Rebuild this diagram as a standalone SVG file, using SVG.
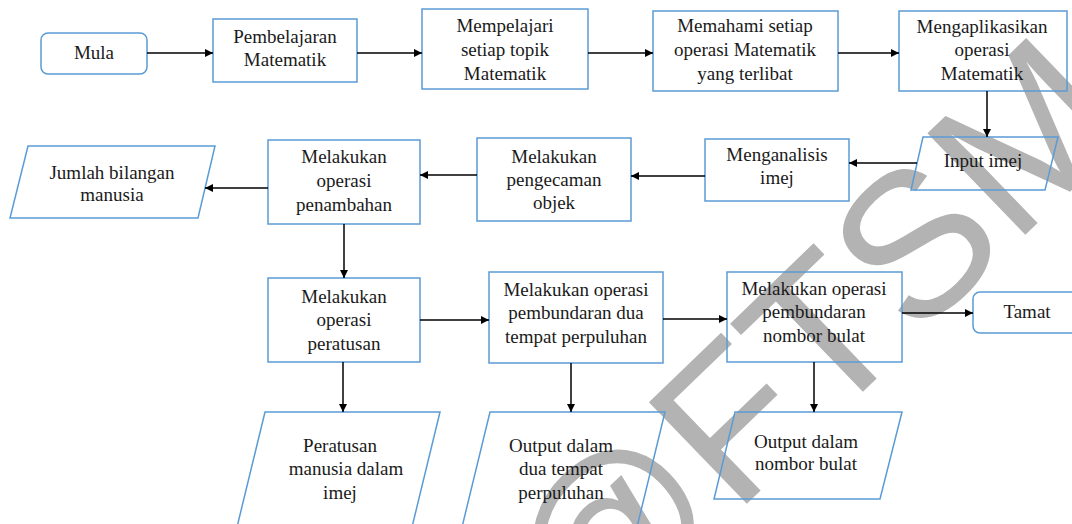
<svg xmlns="http://www.w3.org/2000/svg" width="1072" height="524" viewBox="0 0 1072 524">
<defs>
<style>
.n{fill:none;stroke:#5b9bd5;stroke-width:1.5}
.t{font-size:19px;fill:#1a1a1a;text-anchor:middle}
.c{stroke:#000;stroke-width:1.5;fill:none;marker-end:url(#ah)}
</style>
<marker id="ah" viewBox="0 0 10 10" refX="10" refY="5" markerWidth="9" markerHeight="8" markerUnits="userSpaceOnUse" orient="auto">
<path d="M0,0 L10,5 L0,10 z" fill="#000"/>
</marker>
</defs>
<rect width="1072" height="524" fill="#fff"/>
<text font-family="Liberation Sans, Arial, sans-serif" font-size="205" fill="#b3b3b3" transform="translate(585,660) rotate(-44)">@FTSM</text>

<g id="nodes" font-family="Liberation Serif, Times New Roman, DejaVu Serif, serif">
<g id="mula"><rect class="n" x="41" y="33" width="106" height="41" rx="7"/><text class="t" x="94" y="59">Mula</text></g>
<g id="pembelajaran"><rect class="n" x="213" y="19" width="144" height="63"/><text class="t" x="285" y="43">Pembelajaran</text><text class="t" x="285" y="66">Matematik</text></g>
<g id="mempelajari"><rect class="n" x="422" y="9" width="166" height="80"/><text class="t" x="505" y="32">Mempelajari</text><text class="t" x="505" y="56">setiap topik</text><text class="t" x="505" y="80">Matematik</text></g>
<g id="memahami"><rect class="n" x="653" y="11" width="185" height="80"/><text class="t" x="745" y="32">Memahami setiap</text><text class="t" x="745" y="56">operasi Matematik</text><text class="t" x="745" y="80">yang terlibat</text></g>
<g id="mengaplikasikan"><rect class="n" x="899" y="11" width="168" height="80"/><text class="t" x="982" y="33">Mengaplikasikan</text><text class="t" x="982" y="56">operasi</text><text class="t" x="982" y="80">Matematik</text></g>
<g id="input"><polygon class="n" points="923,137 1058,137 1045,190 911,190"/><text class="t" x="983" y="167">Input imej</text></g>
<g id="menganalisis"><rect class="n" x="705" y="139" width="144" height="62"/><text class="t" x="777" y="161">Menganalisis</text><text class="t" x="777" y="184">imej</text></g>
<g id="pengecaman"><rect class="n" x="477" y="138" width="154" height="83"/><text class="t" x="554" y="163">Melakukan</text><text class="t" x="554" y="186">pengecaman</text><text class="t" x="554" y="209">objek</text></g>
<g id="penambahan"><rect class="n" x="268" y="140" width="152" height="84"/><text class="t" x="344" y="163">Melakukan</text><text class="t" x="344" y="187">operasi</text><text class="t" x="344" y="211">penambahan</text></g>
<g id="jumlah"><polygon class="n" points="28,146 215,146 198,218 10,218"/><text class="t" x="112" y="179">Jumlah bilangan</text><text class="t" x="112" y="201">manusia</text></g>
<g id="peratusan"><rect class="n" x="268" y="278" width="152" height="84"/><text class="t" x="344" y="303">Melakukan</text><text class="t" x="344" y="326">operasi</text><text class="t" x="344" y="350">peratusan</text></g>
<g id="duatempat"><rect class="n" x="489" y="272" width="174" height="91"/><text class="t" x="576" y="296">Melakukan operasi</text><text class="t" x="576" y="319">pembundaran dua</text><text class="t" x="576" y="343">tempat perpuluhan</text></g>
<g id="nomborbulat"><rect class="n" x="727" y="272" width="175" height="90"/><text class="t" x="814" y="295">Melakukan operasi</text><text class="t" x="814" y="318">pembundaran</text><text class="t" x="814" y="342">nombor bulat</text></g>
<g id="tamat"><rect class="n" x="973" y="292" width="112" height="41" rx="7"/><text class="t" x="1027" y="318">Tamat</text></g>
<g id="out-peratusan"><polygon class="n" points="265,412 440,412 404,560 229,560"/><text class="t" x="340" y="452">Peratusan</text><text class="t" x="346" y="475">manusia dalam</text><text class="t" x="340" y="499">imej</text></g>
<g id="out-duatempat"><polygon class="n" points="490,412 665,412 629,560 454,560"/><text class="t" x="561" y="452">Output dalam</text><text class="t" x="561" y="475">dua tempat</text><text class="t" x="561" y="499">perpuluhan</text></g>
<g id="out-nomborbulat"><polygon class="n" points="735,412 902,412 880,499 714,499"/><text class="t" x="806" y="448">Output dalam</text><text class="t" x="806" y="470">nombor bulat</text></g>
</g>

<g id="connectors">
<line class="c" x1="147" y1="53" x2="213" y2="53"/>
<line class="c" x1="357" y1="53" x2="422" y2="53"/>
<line class="c" x1="588" y1="53" x2="653" y2="53"/>
<line class="c" x1="838" y1="53" x2="899" y2="53"/>
<line class="c" x1="987" y1="91" x2="987" y2="137"/>
<line class="c" x1="917" y1="163" x2="849" y2="163"/>
<line class="c" x1="705" y1="176" x2="631" y2="176"/>
<line class="c" x1="477" y1="175" x2="420" y2="175"/>
<line class="c" x1="268" y1="188" x2="205" y2="188"/>
<line class="c" x1="344" y1="224" x2="344" y2="278"/>
<line class="c" x1="420" y1="320" x2="489" y2="320"/>
<line class="c" x1="663" y1="319" x2="727" y2="319"/>
<line class="c" x1="902" y1="313" x2="973" y2="313"/>
<line class="c" x1="343" y1="362" x2="343" y2="412"/>
<line class="c" x1="571" y1="363" x2="571" y2="412"/>
<line class="c" x1="814" y1="362" x2="814" y2="412"/>
</g>
</svg>
